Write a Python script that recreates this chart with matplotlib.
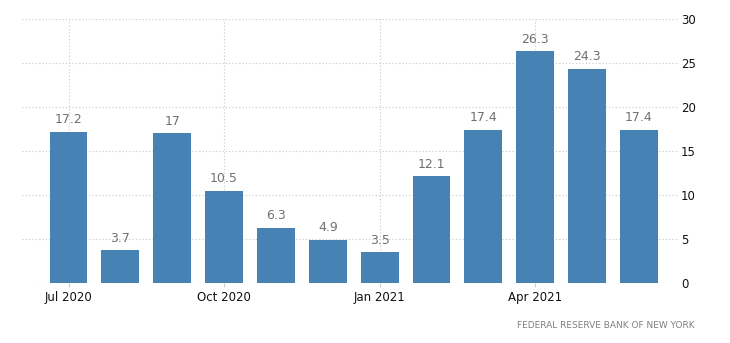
import matplotlib
matplotlib.use("Agg")
import matplotlib.pyplot as plt
from matplotlib import rcParams
rcParams['font.family'] = ['DejaVu Sans']

months = ['Jul 2020', 'Aug 2020', 'Sep 2020', 'Oct 2020', 'Nov 2020', 'Dec 2020',
          'Jan 2021', 'Feb 2021', 'Mar 2021', 'Apr 2021', 'May 2021', 'Jun 2021']
values = [17.2, 3.7, 17, 10.5, 6.3, 4.9, 3.5, 12.1, 17.4, 26.3, 24.3, 17.4]
tick_idx = [0, 3, 6, 9]

fig = plt.figure(figsize=(7.3, 3.43), dpi=100)
ax = fig.add_axes([0.030, 0.175, 0.897, 0.770])

x = list(range(len(values)))
ax.bar(x, values, width=0.73, color='#4682b4', zorder=2)
# value labels above each bar
for xi, v in zip(x, values):
    ax.annotate('%g' % v, (xi, v), xytext=(0, 4), textcoords='offset points',
                ha='center', va='bottom', fontsize=9, color='#707070')

ax.set_xlim(-0.9, 11.73)
ax.set_ylim(0, 30)
ax.set_xticks(tick_idx)
ax.set_xticklabels([months[i] for i in tick_idx])
ax.set_yticks([0, 5, 10, 15, 20, 25, 30])
ax.yaxis.tick_right()
ax.tick_params(axis='y', length=0, pad=3, labelsize=8.5, labelcolor='#111111')
ax.tick_params(axis='x', length=3, color='#cccccc', pad=3, labelsize=8.5, labelcolor='#111111')

ax.grid(True, linestyle=(0, (1, 2)), color='#c8c8c8', linewidth=0.8, zorder=0)
for s in ax.spines.values():
    s.set_visible(False)

fig.text(0.952, 0.052, 'FEDERAL RESERVE BANK OF NEW YORK', ha='right', va='center',
         fontsize=6.5, color='#808080')

fig.savefig('out.png', dpi=100)
